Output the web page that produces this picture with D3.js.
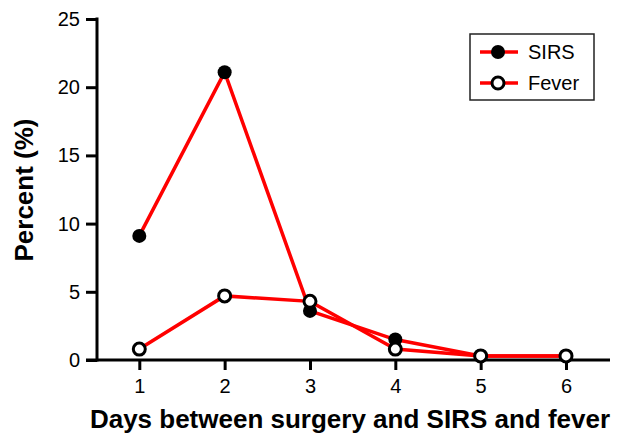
<!DOCTYPE html>
<html><head><meta charset="utf-8">
<script src="https://cdn.jsdelivr.net/npm/d3@7"></script>
<style>body{margin:0;background:#fff}svg{display:block}text{font-family:"Liberation Sans",Arial,sans-serif}</style>
</head><body><svg id="c" width="623" height="433"></svg>
<script>
const days = [1, 2, 3, 4, 5, 6];
const sirs = [9.1, 21.1, 3.6, 1.5, 0.3, 0.3];
const fever = [0.8, 4.7, 4.3, 0.8, 0.3, 0.3];
const yTicks = [0, 5, 10, 15, 20, 25];
const seriesNames = ["SIRS", "Fever"];

const svg = d3.select("#c");
const x = d3.scaleLinear().domain([1, 6]).range([139.3, 566]);
const y = d3.scaleLinear().domain([0, 25]).range([360, 19]);

// axes
const yAx = svg.append("g").attr("transform", "translate(97,0)")
  .call(d3.axisLeft(y).tickValues(yTicks).tickFormat(d3.format("d")).tickSize(11).tickPadding(6).tickSizeOuter(0));
const xAx = svg.append("g").attr("transform", "translate(0,360)")
  .call(d3.axisBottom(x).tickValues(days).tickFormat(d3.format("d")).tickSize(10).tickPadding(9).tickSizeOuter(0));
[yAx, xAx].forEach(g => {
  g.select(".domain").remove();
  g.selectAll(".tick line").attr("stroke", "#000").attr("stroke-width", 3);
  g.selectAll(".tick text").attr("fill", "#000").style("font-size", "20px");
});
svg.append("line").attr("x1", 97).attr("x2", 97).attr("y1", y(25) - 1.5).attr("y2", 361.5)
  .attr("stroke", "#000").attr("stroke-width", 3);
svg.append("line").attr("x1", 86).attr("x2", 610).attr("y1", 360).attr("y2", 360)
  .attr("stroke", "#000").attr("stroke-width", 3);

// titles
svg.append("text").attr("x", 350).attr("y", 428).attr("text-anchor", "middle")
  .style("font-size", "26px").style("font-weight", "bold").text("Days between surgery and SIRS and fever");
svg.append("text").attr("transform", "translate(33,190) rotate(-90)").attr("text-anchor", "middle")
  .style("font-size", "26px").style("font-weight", "bold").text("Percent (%)");

// series
const line = d3.line().x((d, i) => x(days[i])).y(d => y(d));
const series = [
  { vals: sirs, fill: "#000" },
  { vals: fever, fill: "#fff" }
];
series.forEach(s => {
  svg.append("path").datum(s.vals).attr("d", line).attr("fill", "none")
    .attr("stroke", "#ff0000").attr("stroke-width", 3.5);
  svg.selectAll(null).data(s.vals).enter().append("circle")
    .attr("cx", (d, i) => x(days[i])).attr("cy", d => y(d))
    .attr("r", s.fill === "#000" ? 7 : 6)
    .attr("fill", s.fill).attr("stroke", "#000").attr("stroke-width", s.fill === "#000" ? 0 : 3);
});

// legend
const lg = svg.append("g");
lg.append("rect").attr("x", 470).attr("y", 34).attr("width", 124).attr("height", 66)
  .attr("fill", "#fff").attr("stroke", "#222").attr("stroke-width", 1.5);
seriesNames.forEach((n, i) => {
  const cy = 52 + i * 31;
  lg.append("line").attr("x1", 480).attr("x2", 518).attr("y1", cy).attr("y2", cy)
    .attr("stroke", "#ff0000").attr("stroke-width", 3.5);
  lg.append("circle").attr("cx", 498).attr("cy", cy).attr("r", i === 0 ? 7 : 6)
    .attr("fill", series[i].fill).attr("stroke", "#000").attr("stroke-width", i === 0 ? 0 : 3);
  lg.append("text").attr("x", 528).attr("y", cy + 7).style("font-size", "20px").text(n);
});
</script></body></html>
